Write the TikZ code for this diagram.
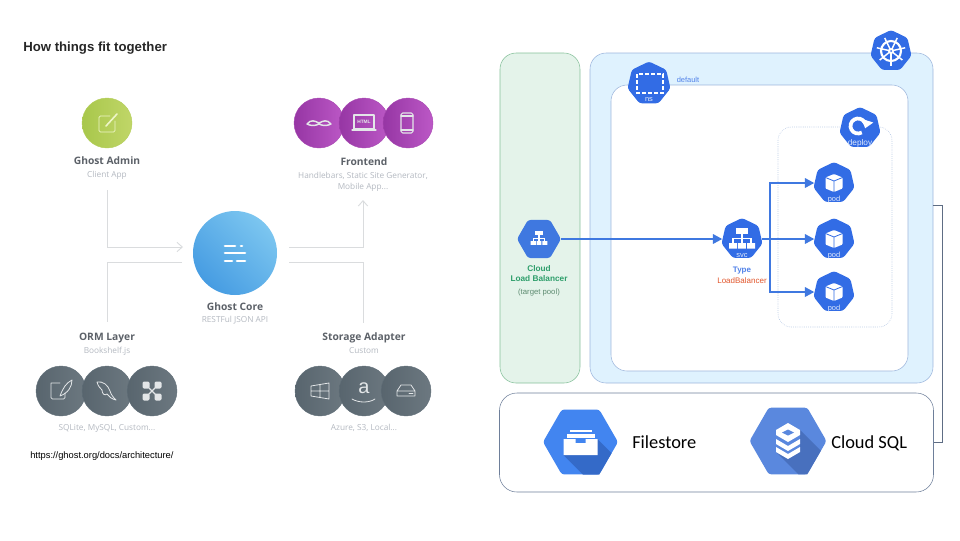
\documentclass[tikz,border=0pt]{standalone}
\usepackage{fontspec}
\setmainfont{Liberation Sans}
\newfontfamily\ghostfont{Open Sans}
\newfontfamily\officefont{Carlito}
\usepackage{tikz}
\usetikzlibrary{shapes.geometric, arrows.meta, positioning}

\definecolor{kubeblue}{HTML}{326CE5}
\definecolor{lineblue}{HTML}{3F78E0}
\definecolor{panelblue}{HTML}{DFF2FE}
\definecolor{panelgreen}{HTML}{E4F3EA}
\definecolor{edgeblue}{HTML}{9DB6DC}
\definecolor{edgegreen}{HTML}{86C09A}
\definecolor{linegrey}{HTML}{DADCDE}
\definecolor{titlegrey}{HTML}{5C6168}
\definecolor{subgrey}{HTML}{B3B8C0}
\definecolor{iconline}{HTML}{E3E6E8}
\definecolor{editline}{HTML}{EEF5C8}
\definecolor{filehex}{HTML}{4285F0}
\definecolor{fileshade}{HTML}{346AC8}
\definecolor{sqlhex}{HTML}{5A88DE}
\definecolor{sqlshade}{HTML}{4870BE}
\definecolor{lbgreen}{HTML}{2E9E6B}
\definecolor{poolgreen}{HTML}{5C8A70}
\definecolor{typered}{HTML}{E2562C}
\definecolor{greenmid}{HTML}{B4CE5A}
\definecolor{purplemid}{HTML}{A848B2}
\definecolor{greymid}{HTML}{62707A}

\tikzstyle{panel} = [rectangle, draw, rounded corners=12pt, inner sep=0pt]
\tikzstyle{greendisc} = [circle, inner sep=0pt, minimum size=37.5pt, draw=greenmid, line width=0.3pt, left color={rgb,255:red,168;green,199;blue,75}, right color={rgb,255:red,192;green,214;blue,104}]
\tikzstyle{purpledisc} = [circle, inner sep=0pt, minimum size=37.5pt, draw=purplemid, line width=0.3pt, left color={rgb,255:red,150;green,54;blue,164}, right color={rgb,255:red,188;green,88;blue,198}]
\tikzstyle{greydisc} = [circle, inner sep=0pt, minimum size=37.5pt, draw=greymid, line width=0.3pt, left color={rgb,255:red,88;green,101;blue,110}, right color={rgb,255:red,108;green,120;blue,128}]
\tikzstyle{coredisc} = [circle, inner sep=0pt, minimum size=63pt, bottom color={rgb,255:red,70;green,156;blue,226}, top color={rgb,255:red,124;green,198;blue,240}, shading angle=-45]
\tikzstyle{kube} = [regular polygon, regular polygon sides=7, fill=kubeblue, inner sep=0pt, minimum size=31.5pt, rounded corners=2pt]
\tikzstyle{gcphex} = [regular polygon, regular polygon sides=6, inner sep=0pt, rounded corners=2pt]
\tikzstyle{ghostname} = [font=\ghostfont\bfseries\fontsize{7.7}{9}\selectfont, text=titlegrey]
\tikzstyle{ghostsub} = [font=\ghostfont\fontsize{6.2}{8.2}\selectfont, text=subgrey, align=center]
\tikzstyle{kubetext} = [font=\fontsize{5.6}{6}\selectfont, text=white!85!kubeblue, inner sep=0pt]
\tikzstyle{smalltext} = [font=\fontsize{6}{6.8}\selectfont, inner sep=0pt, align=center]
\tikzstyle{office} = [font=\officefont\fontsize{13.8}{16}\selectfont, inner sep=0pt]
\tikzstyle{ghostline} = [draw=linegrey, line width=0.7pt, ->, >={Straight Barb[length=4pt, width=7pt]}]
\tikzstyle{ghostplain} = [draw=linegrey, line width=0.7pt]
\tikzstyle{arrow} = [draw=lineblue, line width=1.6pt, ->, >={Triangle[length=7pt, width=7pt]}]
\tikzstyle{icon} = [draw=iconline, line width=0.6pt, line join=round, line cap=round]

\tikzset{
  pics/pencilbox/.style={code={
    \draw[icon, rounded corners=1pt, draw=editline] (3,-7) -- (-8,-7) -- (-8,9) -- (8,9) -- (8,-2);
    \draw[icon, line width=1.2pt, draw=editline] (-1,3) -- (10,-9);
  }},
  pics/coreglyph/.style={code={
    \draw[white, line width=2pt, line cap=round] (-10,-7) -- (0,-7) (6,-7) -- (7,-7) (-10,0) -- (10,0) (-10,8) -- (-3,8) (2,8) -- (10,8);
  }},
  pics/moustache/.style={code={
    \draw[icon, line width=1.1pt] (-12,1) .. controls (-8,-4) and (-4,-2) .. (0,0) .. controls (4,-2) and (8,-4) .. (12,1) .. controls (8,3) and (4,3) .. (0,1) .. controls (-4,3) and (-8,3) .. (-12,1);
  }},
  pics/htmlscreen/.style={code={
    \draw[icon, line width=0.8pt] (-10,-8) rectangle (10,6);
    \draw[icon, line width=0.8pt] (-12,7) -- (12,7);
    \node (htmltxt) [font=\bfseries\fontsize{3.6}{4}\selectfont, text=iconline, inner sep=0pt] at (0,-1) {HTML};
  }},
  pics/phone/.style={code={
    \draw[icon, rounded corners=1.2pt, line width=0.8pt] (-6,-10) rectangle (6,10);
    \draw[icon, line width=0.8pt] (-6,-7) -- (6,-7) (-6,7) -- (6,7);
  }},
  pics/quill/.style={code={
    \draw[icon, rounded corners=1pt] (-10,-8) -- (-1,-8) (-10,-8) -- (-10,8) -- (4,8) -- (4,2);
    \draw[icon] (-1,5) .. controls (2,-3) and (5,-8) .. (11,-11) .. controls (11,-4) and (7,2) .. (-1,5);
  }},
  pics/dolphin/.style={code={
    \draw[icon] (-10,-9) .. controls (-4,-10) and (1,-6) .. (3,0) .. controls (4,4) and (7,7) .. (9,9) .. controls (5,8) and (2,6) .. (0,3) .. controls (-2,5) and (-5,3) .. (-5,-1) .. controls (-7,-3) and (-9,-5) .. (-10,-9);
  }},
  pics/fournodes/.style={code={
    \foreach \nx in {-6,6} \foreach \ny in {-6,6} {
      \fill[iconline, rounded corners=1pt] (\nx-3.5,\ny-3.5) rectangle (\nx+3.5,\ny+3.5);
    }
    \draw[icon, line width=1pt] (-6,-6) -- (6,6) (6,-6) -- (-6,6);
  }},
  pics/winpanes/.style={code={
    \draw[icon] (-9,-5) -- (9,-8) -- (9,8) -- (-9,5) -- cycle (0,-6.5) -- (0,6.5) (-9,0) -- (9,0);
  }},
  pics/amazon/.style={code={
    \node (amazontxt) [font=\fontsize{15}{15}\selectfont\rmfamily, text=iconline, inner sep=0pt] at (0,-3) {a};
    \draw[icon] (-12,8) .. controls (-5,12) and (5,12) .. (11,8);
  }},
  pics/drive/.style={code={
    \draw[icon] (-9,0) -- (-5,-6) -- (5,-6) -- (9,0) -- (9,5) -- (-9,5) -- cycle (-9,0) -- (9,0);
    \draw[icon] (3,2.5) -- (7,2.5);
  }},
  pics/helmwheel/.style={code={
    \draw[white, line width=1.6pt] (0,0) circle (10);
    \foreach \sa in {90,141.4,...,400} {
      \draw[white, line width=1.1pt] (0,0) -- (\sa:14.5);
    }
    \fill[white] (0,0) circle (3);
    \fill[kubeblue] (0,0) circle (1);
  }},
  pics/nsbox/.style={code={
    \draw[white, line width=1pt, dash pattern=on 3pt off 1.5pt] (-13,-10) rectangle (13,9);
  }},
  pics/redo/.style={code={
    \draw[white, line width=2.8pt, -{Triangle[length=6pt, width=8.5pt]}] (60:7.5) arc[start angle=60, end angle=378, radius=7.5];
  }},
  pics/hierarchy/.style={code={
    \fill[white] (-6,-11) rectangle (6,-5.5);
    \fill[white] (-13,4) rectangle (-5,9.7) (-3.8,4) rectangle (3.8,9.7) (5,4) rectangle (13,9.7);
    \draw[white, line width=0.8pt] (0,-5.5) -- (0,4) (-9,4) -- (-9,-0.7) -- (9,-0.7) -- (9,4);
  }},
  pics/cube/.style={code={
    \fill[white, rounded corners=0.6pt] (0,-9) -- (8.5,-5.5) -- (8.5,5.5) -- (0,9) -- (-8.5,5.5) -- (-8.5,-5.5) -- cycle;
    \draw[kubeblue, line width=0.6pt] (-8.5,-5.5) -- (0,-2) -- (8.5,-5.5) (0,-2) -- (0,9);
  }}
}

\begin{document}
\begin{tikzpicture}[x=0.75pt, y=-0.75pt, >=Stealth]
    \useasboundingbox (0,0) rectangle (960,540);

    % Left half: ghost architecture
    \node (title) [anchor=west, inner sep=0pt, font=\bfseries\fontsize{9.9}{11}\selectfont, text=black!85] at (23,48.5) {How things fit together};
    \node (url) [anchor=west, inner sep=0pt, font=\fontsize{7}{8}\selectfont] at (30,456.5) {https://ghost.org/docs/architecture/};

    \node (admin) [greendisc] at (107,123) {};
    \pic at (107,123) {pencilbox};
    \node (adminname) [ghostname] at (107,161) {Ghost Admin};
    \node (adminsub) [ghostsub] at (107,175) {Client App};

    \node (core) [coredisc] at (235,253) {};
    \pic at (235,253) {coreglyph};
    \node (corename) [ghostname] at (235,307) {Ghost Core};
    \node (coresub) [ghostsub] at (235,320) {RESTFul JSON API};

    \node (hbars) [purpledisc] at (319,123) {};
    \node (html) [purpledisc] at (364,123) {};
    \node (mobile) [purpledisc] at (408,123) {};
    \pic at (319,123) {moustache};
    \pic at (364,123) {htmlscreen};
    \pic at (407,123) {phone};
    \node (frontname) [ghostname] at (364,162) {Frontend};
    \node (frontsub) [ghostsub] at (363,182) {Handlebars, Static Site Generator,\\Mobile App...};

    \node (ormname) [ghostname] at (107,338) {ORM Layer};
    \node (ormsub) [ghostsub] at (107,351) {Bookshelf.js};
    \node (sqlite) [greydisc] at (61,391) {};
    \node (mysql) [greydisc] at (107,391) {};
    \node (custom) [greydisc] at (152,391) {};
    \pic at (61,391) {quill};
    \pic at (107,391) {dolphin};
    \pic at (152,391) {fournodes};
    \node (ormlist) [ghostsub] at (107,428) {SQLite, MySQL, Custom...};

    \node (storename) [ghostname] at (364,338) {Storage Adapter};
    \node (storesub) [ghostsub] at (364,351) {Custom};
    \node (azure) [greydisc] at (320,391) {};
    \node (sthree) [greydisc] at (364,391) {};
    \node (local) [greydisc] at (406,391) {};
    \pic at (320,391) {winpanes};
    \pic at (364,391) {amazon};
    \pic at (406,391) {drive};
    \node (storelist) [ghostsub] at (364,428) {Azure, S3, Local...};

    % Grey connectors, free ends are coordinates
    \coordinate (adminfoot) at (107,190);
    \coordinate (corein) at (183,247);
    \coordinate (coreoutup) at (289,247);
    \coordinate (frontfoot) at (363,200);
    \coordinate (coreoutdown) at (289,262);
    \coordinate (storehead) at (363,323);
    \coordinate (coreleft) at (182,262);
    \coordinate (ormhead) at (107,322);
    \draw [ghostline] (adminfoot) |- (corein);
    \draw [ghostline] (coreoutup) -| (frontfoot);
    \draw [ghostplain] (coreoutdown) -| (storehead);
    \draw [ghostplain] (coreleft) -| (ormhead);

    % Right half: panels
    \node (lbpanel) [panel, draw=edgegreen, fill=panelgreen, minimum width=60pt, minimum height=247.5pt] at (540,218) {};
    \node (clusterpanel) [panel, draw=edgeblue, fill=panelblue, minimum width=257.25pt, minimum height=247.5pt] at (761.5,218) {};
    \node (nspanel) [panel, draw=edgeblue, fill=white, minimum width=222.75pt, minimum height=214.5pt] at (759.5,228) {};
    \node (deploypanel) [panel, draw=edgeblue, densely dotted, minimum width=85.5pt, minimum height=150pt, rounded corners=10pt] at (835,227) {};
    \node (storagepanel) [panel, draw=edgeblue!70!black, fill=white, minimum width=325.5pt, minimum height=74.25pt, rounded corners=13pt] at (716.5,442.5) {};

    % Kubernetes icons
    \node (helm) [kube] at (891,51) {};
    \pic at (891,51) {helmwheel};
    \node (ns) [kube, minimum size=33pt] at (649,83.5) {};
    \pic at (650,84) {nsbox};
    \node (nslabel) [kubetext] at (649,99.5) {ns};
    \node (defaultlabel) [smalltext, text=kubeblue!85!white, font=\fontsize{5.6}{6}\selectfont] at (688,80) {default};
    \node (deploy) [kube] at (860,128) {};
    \pic at (858,126) {redo};
    \node (deploylabel) [kubetext, font=\fontsize{6.2}{6}\selectfont] at (860,143) {deploy};
    \node (svc) [kube] at (742,239) {};
    \pic at (742,239) {hierarchy};
    \node (svclabel) [kubetext] at (742,255.5) {svc};
    \node (typelabel) [smalltext, text=kubeblue!85!white, font=\bfseries\fontsize{6}{6.8}\selectfont] at (742,271) {Type};
    \node (lbtype) [smalltext, text=typered] at (742,280.5) {LoadBalancer};
    \node (pod1) [kube] at (834,183) {};
    \node (pod2) [kube] at (834,239) {};
    \node (pod3) [kube] at (834,292) {};
    \foreach \py in {183,239,292} {
      \pic at (834,\py) {cube};
    }
    \node (pod1label) [kubetext] at (834,199.5) {pod};
    \node (pod2label) [kubetext] at (834,255.5) {pod};
    \node (pod3label) [kubetext] at (834,308.5) {pod};

    % Load balancer
    \node (lb) [gcphex, fill=lineblue, minimum size=33pt] at (539,239) {};
    \pic[scale=0.65] at (539,238.5) {hierarchy};
    \node (lblabel) [smalltext, text=lbgreen, font=\bfseries\fontsize{6.2}{7.5}\selectfont] at (539,274) {Cloud\\Load Balancer};
    \node (lbpool) [smalltext, text=poolgreen, font=\fontsize{5.8}{6}\selectfont] at (539,292) {(target pool)};

    % Blue arrows
    \coordinate (fork) at (770,239);
    \draw [arrow] (lb) -- (svc);
    \draw [arrow] (svc) -- (pod2);
    \draw [arrow] (fork) |- (pod1);
    \draw [arrow] (fork) |- (pod3);

    % Filestore and Cloud SQL
    \node (filestore) [gcphex, fill=filehex, minimum size=56.25pt] at (580.5,442) {};
    \fill [fileshade] (597.5,439) -- (611.6,453.1) -- (599.25,474.5) -- (583,474.5) -- (563.5,455) -- cycle;
    \fill [white] (563.5,439) -- (575.5,439) -- (575.5,443) -- (585.5,443) -- (585.5,439) -- (597.5,439) -- (597.5,455) -- (563.5,455) -- cycle;
    \fill [white] (566.5,434) rectangle (594.5,437.5);
    \fill [white] (569.5,430) rectangle (591.5,432);
    \node (filestorelabel) [office, anchor=west] at (632,442) {Filestore};

    \node (cloudsql) [gcphex, fill=sqlhex, minimum size=57.75pt] at (788,441) {};
    \fill [sqlshade] (800,430) -- (820.8,450.8) -- (807.25,474.3) -- (798.3,474.3) -- (776,452) -- (788,459) -- (800,452) -- cycle;
    \fill [white] (788,423) -- (800,430) -- (800,435) -- (788,442) -- (776,435) -- (776,430) -- cycle;
    \fill [sqlhex] (788,429.5) -- (794,432.5) -- (788,435.5) -- (782,432.5) -- cycle;
    \fill [white] (776,439) -- (788,446) -- (800,439) -- (800,444) -- (788,451) -- (776,444) -- cycle;
    \fill [white] (776,447) -- (788,454) -- (800,447) -- (800,452) -- (788,459) -- (776,452) -- cycle;
    \node (cloudsqllabel) [office, anchor=west] at (831,443) {Cloud SQL};

    % Thin link between cluster and storage
    \coordinate (clusterright) at (932.5,205);
    \coordinate (storageright) at (933.5,442);
    \draw [draw=edgeblue!60!black, line width=0.6pt] (clusterright) -- ++(10,0) |- (storageright);
\end{tikzpicture}
\end{document}
